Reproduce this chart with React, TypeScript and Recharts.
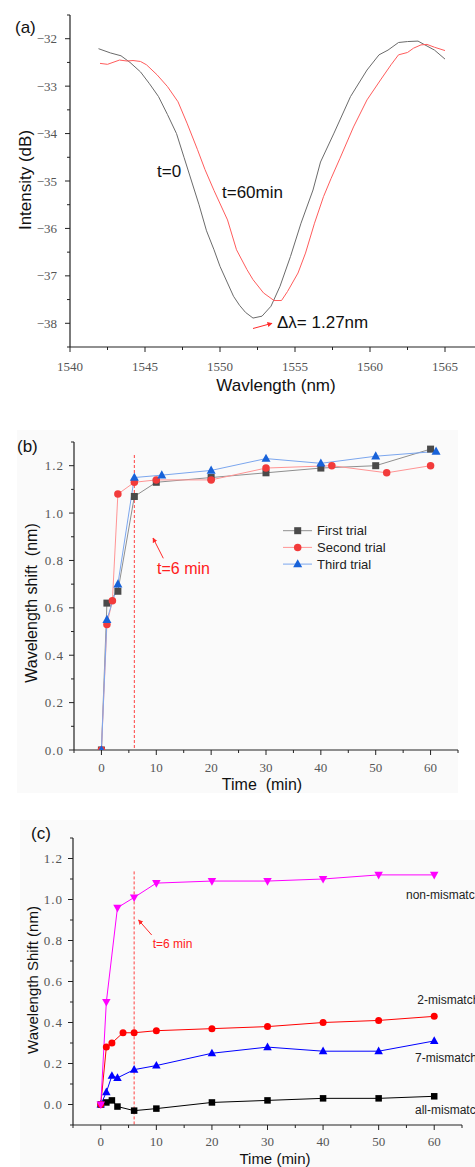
import React from 'react'
import { LineChart, Line, XAxis, YAxis } from 'recharts'

const SANS = '"Liberation Sans", Arial, sans-serif'
const SERIF = '"Liberation Serif", "DejaVu Serif", serif'

// (a) transmission spectra, [wavelength nm, intensity dB]
const specT0: [number, number][] = [
  [1541.9, -32.21], [1542.7, -32.3], [1543.4, -32.36], [1544.0, -32.5], [1544.7, -32.7], [1545.3, -32.95],
  [1545.9, -33.22], [1546.5, -33.6], [1547.1, -34.0], [1547.6, -34.5], [1548.1, -35.0], [1548.6, -35.5],
  [1549.1, -36.05], [1549.6, -36.45], [1550.0, -36.8], [1550.5, -37.15], [1550.9, -37.43], [1551.3, -37.62],
  [1551.7, -37.77], [1552.2, -37.89], [1552.8, -37.85], [1553.4, -37.64], [1554.0, -37.22], [1554.7, -36.59],
  [1555.4, -35.89], [1556.2, -35.19], [1556.7, -34.6], [1557.6, -33.99], [1558.7, -33.22], [1559.8, -32.66],
  [1560.6, -32.34], [1561.2, -32.24], [1561.9, -32.08], [1562.5, -32.06], [1563.2, -32.05], [1563.6, -32.12],
  [1564.3, -32.24], [1565.0, -32.43],
]
const specT60: [number, number][] = [
  [1542.0, -32.52], [1542.5, -32.54], [1543.3, -32.45], [1543.8, -32.47], [1544.2, -32.46], [1544.7, -32.48],
  [1545.1, -32.55], [1545.8, -32.76], [1546.5, -33.01], [1547.2, -33.33], [1547.8, -33.78], [1548.5, -34.34],
  [1549.0, -34.76], [1549.6, -35.2], [1550.5, -35.82], [1551.1, -36.45], [1551.8, -36.87], [1552.2, -37.08],
  [1552.9, -37.36], [1553.6, -37.52], [1554.1, -37.52], [1554.5, -37.33], [1555.2, -36.94], [1555.7, -36.52],
  [1556.3, -35.89], [1556.9, -35.33], [1557.4, -34.95], [1558.0, -34.52], [1558.9, -33.86], [1559.8, -33.29],
  [1560.7, -32.87], [1561.4, -32.55], [1561.9, -32.34], [1562.5, -32.29], [1562.9, -32.2], [1563.4, -32.13],
  [1563.8, -32.12], [1564.3, -32.18], [1565.0, -32.25],
]
const wlTicks = [1540, 1542.5, 1545, 1547.5, 1550, 1552.5, 1555, 1557.5, 1560, 1562.5, 1565]
const dbTicks = [-38.5, -38, -37.5, -37, -36.5, -36, -35.5, -35, -34.5, -34, -33.5, -33, -32.5, -32, -31.5]

// (b) three trials, time (min) and shift (nm)
const trial1Time = [0, 1, 3, 6, 10, 20, 30, 40, 50, 60]
const trial1Shift = [0, 0.62, 0.67, 1.07, 1.13, 1.15, 1.17, 1.19, 1.2, 1.27]
const trial2Time = [0, 1, 2, 3, 6, 10, 20, 30, 42, 52, 60]
const trial2Shift = [0, 0.53, 0.63, 1.08, 1.13, 1.14, 1.14, 1.19, 1.2, 1.17, 1.2]
const trial3Time = [0, 1, 3, 6, 11, 20, 30, 40, 50, 61]
const trial3Shift = [0, 0.55, 0.7, 1.15, 1.16, 1.18, 1.23, 1.21, 1.24, 1.26]

// (c) mismatch comparison
const nonTime = [0, 1, 3, 6, 10, 20, 30, 40, 50, 60]
const nonShift = [0, 0.5, 0.96, 1.01, 1.08, 1.09, 1.09, 1.1, 1.12, 1.12]
const twoTime = [0, 1, 2, 4, 6, 10, 20, 30, 40, 50, 60]
const twoShift = [0, 0.28, 0.3, 0.35, 0.35, 0.36, 0.37, 0.38, 0.4, 0.41, 0.43]
const sevenTime = [0, 1, 2, 3, 6, 10, 20, 30, 40, 50, 60]
const sevenShift = [0, 0.06, 0.14, 0.13, 0.17, 0.19, 0.25, 0.28, 0.26, 0.26, 0.31]
const allTime = [0, 1, 2, 3, 6, 10, 20, 30, 40, 50, 60]
const allShift = [0, 0.01, 0.02, -0.01, -0.03, -0.02, 0.01, 0.02, 0.03, 0.03, 0.04]

const timeTicks = [-5, 0, 5, 10, 15, 20, 25, 30, 35, 40, 45, 50, 55, 60, 65]
const shiftTicksB = [0, 0.1, 0.2, 0.3, 0.4, 0.5, 0.6, 0.7, 0.8, 0.9, 1.0, 1.1, 1.2, 1.3]
const shiftTicksC = [-0.1, 0, 0.1, 0.2, 0.3, 0.4, 0.5, 0.6, 0.7, 0.8, 0.9, 1.0, 1.1, 1.2, 1.3]

// t = 6 min marker line
const markTime = 6
const markTopB = 1.245
const markTopC = 1.137

const pairs = (xs: number[], ys: number[]) => xs.map((x, i) => ({ x, y: ys[i] }))
const fromTuples = (d: [number, number][]) => d.map(([x, y]) => ({ x, y }))

function Marker({ kind, cx, cy, s, fill }: { kind: string; cx: number; cy: number; s: number; fill: string }) {
  if (kind === 'square') return <rect x={cx - s / 2} y={cy - s / 2} width={s} height={s} fill={fill} />
  if (kind === 'circle') return <circle cx={cx} cy={cy} r={s / 2} fill={fill} />
  const h = s * 0.9
  const pts = kind === 'up'
    ? `${cx},${cy - h * 0.6} ${cx - s / 2},${cy + h * 0.4} ${cx + s / 2},${cy + h * 0.4}`
    : `${cx},${cy + h * 0.6} ${cx - s / 2},${cy - h * 0.4} ${cx + s / 2},${cy - h * 0.4}`
  return <polygon points={pts} fill={fill} />
}

const dotOf = (kind: string, s: number, fill: string) => (p: any) =>
  <Marker key={'d' + p.index} kind={kind} cx={p.cx} cy={p.cy} s={s} fill={fill} />

const isMult = (v: number, step: number) => Math.abs(v / step - Math.round(v / step)) < 1e-6

function xTick(major: number, gap: number, fmt: (v: number) => string) {
  return (p: any) => {
    const v = p.payload.value
    const big = isMult(v, major)
    return (
      <g>
        <line x1={p.x} x2={p.x} y1={p.y} y2={p.y + (big ? 5 : 3)} stroke="#222" strokeWidth={1} />
        {big && (
          <text x={p.x} y={p.y + gap} textAnchor="middle" dominantBaseline="central"
            fontFamily={SERIF} fontSize={13} fill="#555">{fmt(v)}</text>
        )}
      </g>
    )
  }
}

function yTick(major: number, gap: number, fmt: (v: number) => string, spacing = 0) {
  return (p: any) => {
    const v = p.payload.value
    const big = isMult(v, major)
    return (
      <g>
        <line x1={p.x} x2={p.x - (big ? 5 : 3)} y1={p.y} y2={p.y} stroke="#222" strokeWidth={1} />
        {big && (
          <text x={p.x - gap} y={p.y} textAnchor="end" dominantBaseline="central"
            fontFamily={SERIF} fontSize={13} fill="#555" letterSpacing={spacing}>{fmt(v)}</text>
        )}
      </g>
    )
  }
}

const axisLine = { stroke: '#222', strokeWidth: 1.2 }
const fmtDb = (v: number) => '\u2212' + Math.abs(v)
const fmtInt = (v: number) => String(v)
const fmtOne = (v: number) => (Math.abs(v) < 1e-9 ? 0 : v).toFixed(1)

function PanelA() {
  return (
    <LineChart width={475} height={400} margin={{ top: 15, right: 0, left: 0, bottom: 0 }}>
      <XAxis dataKey="x" type="number" domain={[1540, 1567]} ticks={wlTicks} interval={0} allowDataOverflow
        height={53} tickSize={0} tickMargin={0} tickLine={false} axisLine={axisLine} tick={xTick(5, 19, fmtInt)} />
      <YAxis dataKey="y" type="number" domain={[-38.5, -31.5]} ticks={dbTicks} interval={0} allowDataOverflow
        width={70} tickSize={0} tickMargin={0} tickLine={false} axisLine={axisLine} tick={yTick(1, 13, fmtDb)} />
      <Line data={fromTuples(specT0)} dataKey="y" type="linear" stroke="#6b6b6b" strokeWidth={1} dot={false}
        activeDot={false} isAnimationActive={false} />
      <Line data={fromTuples(specT60)} dataKey="y" type="linear" stroke="#ff5c5c" strokeWidth={1} dot={false}
        activeDot={false} isAnimationActive={false} />
    </LineChart>
  )
}

function PanelB() {
  const series = [
    { xs: trial1Time, ys: trial1Shift, line: '#8f8f8f', fill: '#4a4a4a', kind: 'square', s: 7 },
    { xs: trial2Time, ys: trial2Shift, line: '#ff9494', fill: '#f23b3b', kind: 'circle', s: 7.5 },
    { xs: trial3Time, ys: trial3Shift, line: '#7ba6ee', fill: '#1862d9', kind: 'up', s: 9 },
  ]
  return (
    <LineChart width={475} height={365} margin={{ top: 12, right: 17, left: 0, bottom: 0 }}>
      <XAxis dataKey="x" type="number" domain={[-5, 65]} ticks={timeTicks} interval={0} allowDataOverflow
        height={45} tickSize={0} tickMargin={0} tickLine={false} axisLine={axisLine} tick={xTick(10, 17.7, fmtInt)} />
      <YAxis dataKey="y" type="number" domain={[0, 1.3]} ticks={shiftTicksB} interval={0} allowDataOverflow
        width={74} tickSize={0} tickMargin={0} tickLine={false} axisLine={axisLine} tick={yTick(0.2, 10, fmtOne, 1)} />
      <Line data={[{ x: markTime, y: markTopB }, { x: markTime, y: 0 }]} dataKey="y" stroke="#ff4040"
        strokeDasharray="3 2" strokeWidth={1} dot={false} activeDot={false} isAnimationActive={false} />
      {series.map((s, i) => (
        <Line key={i} data={pairs(s.xs, s.ys)} dataKey="y" type="linear" stroke={s.line} strokeWidth={1}
          dot={dotOf(s.kind, s.s, s.fill)} activeDot={false} isAnimationActive={false} />
      ))}
    </LineChart>
  )
}

function PanelC() {
  const series = [
    { xs: allTime, ys: allShift, color: '#000000', kind: 'square', s: 6.5 },
    { xs: sevenTime, ys: sevenShift, color: '#0000ff', kind: 'up', s: 8.5 },
    { xs: twoTime, ys: twoShift, color: '#ff0000', kind: 'circle', s: 7 },
    { xs: nonTime, ys: nonShift, color: '#ff00ff', kind: 'down', s: 8.5 },
  ]
  return (
    <LineChart width={475} height={347} margin={{ top: 18, right: 13, left: 0, bottom: 0 }}>
      <XAxis dataKey="x" type="number" domain={[-5, 65]} ticks={timeTicks} interval={0} allowDataOverflow
        height={42} tickSize={0} tickMargin={0} tickLine={false} axisLine={axisLine} tick={xTick(10, 16.7, fmtInt)} />
      <YAxis dataKey="y" type="number" domain={[-0.1, 1.3]} ticks={shiftTicksC} interval={0} allowDataOverflow
        width={73} tickSize={0} tickMargin={0} tickLine={false} axisLine={axisLine} tick={yTick(0.2, 10, fmtOne, 1)} />
      <Line data={[{ x: markTime, y: markTopC }, { x: markTime, y: -0.1 }]} dataKey="y" stroke="#ff4040"
        strokeDasharray="3 2" strokeWidth={1} dot={false} activeDot={false} isAnimationActive={false} />
      {series.map((s, i) => (
        <Line key={i} data={pairs(s.xs, s.ys)} dataKey="y" type="linear" stroke={s.color} strokeWidth={1}
          dot={dotOf(s.kind, s.s, s.color)} activeDot={false} isAnimationActive={false} />
      ))}
    </LineChart>
  )
}

function Overlay() {
  const t = { fontFamily: SANS, fill: '#111' } as const
  const pre = { whiteSpace: 'pre' } as const
  const legend = [
    { label: 'First trial', line: '#8f8f8f', fill: '#4a4a4a', kind: 'square', s: 7 },
    { label: 'Second trial', line: '#ff9494', fill: '#f23b3b', kind: 'circle', s: 7.5 },
    { label: 'Third trial', line: '#7ba6ee', fill: '#1862d9', kind: 'up', s: 9 },
  ]
  return (
    <svg width={475} height={1167} style={{ position: 'absolute', left: 0, top: 0, pointerEvents: 'none' }}>
      <defs>
        <marker id="arr" viewBox="0 0 10 10" refX="9" refY="5" markerWidth="5" markerHeight="5" orient="auto">
          <path d="M0,0 L10,5 L0,10 z" fill="#ff2a2a" />
        </marker>
      </defs>
      {/* panel (a) */}
      <text x={15} y={27} dominantBaseline="central" fontSize={17} {...t}>(a)</text>
      <text transform="translate(25,180) rotate(-90)" textAnchor="middle" dominantBaseline="central" fontSize={17} {...t}>Intensity (dB)</text>
      <text x={276} y={385} textAnchor="middle" dominantBaseline="central" fontSize={17} {...t}>Wavlength (nm)</text>
      <text x={157} y={171} dominantBaseline="central" fontSize={17} {...t}>t=0</text>
      <text x={222} y={192} dominantBaseline="central" fontSize={17} {...t}>t=60min</text>
      <text x={277} y={322} dominantBaseline="central" fontSize={17} {...t}>{'\u0394\u03bb= 1.27nm'}</text>
      <line x1={253} y1={328.5} x2={272} y2={323.3} stroke="#ff2a2a" strokeWidth={1} markerEnd="url(#arr)" />

      {/* panel (b) */}
      <text x={17} y={446} dominantBaseline="central" fontSize={17} {...t}>(b)</text>
      <text transform="translate(31,603) rotate(-90)" textAnchor="middle" dominantBaseline="central" fontSize={16} {...t} style={pre}>Wavelength shift  (nm)</text>
      <text x={262} y={784} textAnchor="middle" dominantBaseline="central" fontSize={16} {...t} style={pre}>Time  (min)</text>
      <line x1={163.3} y1={558.3} x2={153} y2={538} stroke="#ff2a2a" strokeWidth={1} markerEnd="url(#arr)" />
      <text x={157} y={568} dominantBaseline="central" fontSize={16} fontFamily={SANS} fill="#ff2020">t=6 min</text>
      {legend.map((l, i) => {
        const y = 530.7 + i * 16.7
        return (
          <g key={i}>
            <line x1={283} x2={312} y1={y} y2={y} stroke={l.line} strokeWidth={1} />
            <Marker kind={l.kind} cx={297.7} cy={y} s={l.s} fill={l.fill} />
            <text x={317} y={y} dominantBaseline="central" fontSize={13} fontFamily={SANS} fill="#222">{l.label}</text>
          </g>
        )
      })}

      {/* panel (c) */}
      <text x={31} y={833} dominantBaseline="central" fontSize={17} {...t}>(c)</text>
      <text transform="translate(32,980) rotate(-90)" textAnchor="middle" dominantBaseline="central" fontSize={15} {...t}>Wavelength Shift (nm)</text>
      <text x={275} y={1158} textAnchor="middle" dominantBaseline="central" fontSize={15} {...t}>Time (min)</text>
      <line x1={151.7} y1={935} x2={138.5} y2={920} stroke="#ff2a2a" strokeWidth={1} markerEnd="url(#arr)" />
      <text x={152.7} y={944.3} dominantBaseline="central" fontSize={12} fontFamily={SANS} fill="#ff2020">t=6 min</text>
      <text x={406} y={895} dominantBaseline="central" fontSize={12} fontFamily={SANS} fill="#222">non-mismatch</text>
      <text x={417.3} y={1000} dominantBaseline="central" fontSize={12} fontFamily={SANS} fill="#222">2-mismatch</text>
      <text x={415} y={1058.3} dominantBaseline="central" fontSize={12} fontFamily={SANS} fill="#222">7-mismatch</text>
      <text x={415} y={1110} dominantBaseline="central" fontSize={12} fontFamily={SANS} fill="#222">all-mismatch</text>
    </svg>
  )
}

export default function App() {
  return (
    <div style={{ position: 'absolute', left: 0, top: 0, width: 475, height: 1167, background: '#fff', overflow: 'hidden' }}>
      <div style={{ position: 'absolute', left: 17, top: 430, width: 441, height: 363, background: '#fafafa' }} />
      <div style={{ position: 'absolute', left: 20, top: 820, width: 455, height: 347, background: '#fafafa' }} />
      <div style={{ position: 'absolute', left: 0, top: 0 }}><PanelA /></div>
      <div style={{ position: 'absolute', left: 0, top: 430 }}><PanelB /></div>
      <div style={{ position: 'absolute', left: 0, top: 820 }}><PanelC /></div>
      <Overlay />
    </div>
  )
}
